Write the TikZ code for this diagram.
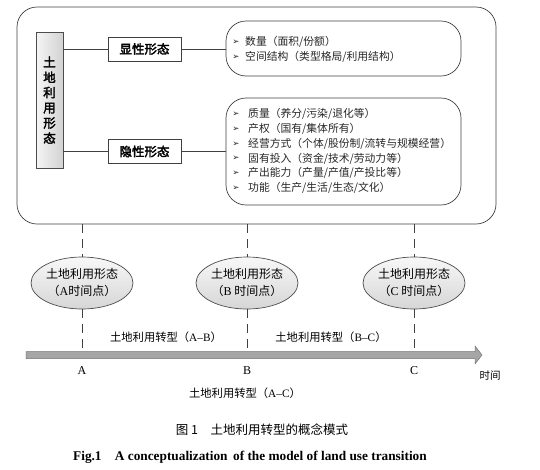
\documentclass[tikz,border=0pt]{standalone}
\usepackage{fontspec}
\setmainfont{Liberation Serif}
\newfontfamily\cjk{Noto Sans CJK SC}
\newfontfamily\cjkb{Noto Sans CJK SC}[FakeBold=2.5]
\newfontfamily\dingfont{DejaVu Sans}
\usetikzlibrary{shapes.geometric}
\newcommand{\blt}{{\dingfont\fontsize{8.5}{9}\selectfont ➢}}
\begin{document}
\begin{tikzpicture}[x=1pt,y=-1pt,
  line/.style={draw=black!75,line width=0.7pt},
  catbox/.style={draw=black!75,line width=0.7pt,fill=white,minimum width=73pt,minimum height=24pt,inner sep=0pt,font=\cjkb\fontsize{12.5}{13}\selectfont},
  roundbox/.style={draw=black!75,line width=0.7pt,rounded corners=20pt},
  item/.style={anchor=west,inner sep=0pt,font=\cjk\fontsize{10.8}{12}\selectfont,text=black!85},
  bul/.style={anchor=center,inner sep=0pt,text=black!85},
  stateell/.style={ellipse,draw=black!70,line width=0.7pt,top color=gray!6,bottom color=gray!32,minimum width=102pt,minimum height=52pt,inner sep=0pt,align=center,font=\cjk\fontsize{12}{17}\selectfont},
  vdash/.style={draw=black!75,line width=0.8pt,dash pattern=on 9pt off 6pt},
  lbl/.style={inner sep=0pt,font=\cjk\fontsize{11.3}{13}\selectfont},
  letter/.style={inner sep=0pt,font=\fontsize{12}{13}\selectfont}]
\path[use as bounding box] (0,0) rectangle (540,469);

% outer frame
\node[roundbox,minimum width=479pt,minimum height=217pt,inner sep=0pt] (outer) at (256.5,115.5) {};

% vertical box
\node[draw=black!70,line width=0.7pt,left color=gray!8,right color=gray!35,minimum width=27pt,minimum height=136pt,inner sep=0pt,align=center,font=\cjkb\fontsize{12.5}{15.2}\selectfont] (L) at (49.5,100) {土\\地\\利\\用\\形\\态};

% category boxes
\node[catbox] (X) at (144.5,49) {显性形态};
\node[catbox] (Y) at (144.5,151.5) {隐性形态};

% rounded content boxes
\node[roundbox,minimum width=235pt,minimum height=55pt,inner sep=0pt] (U) at (343.5,48.5) {};
\node[roundbox,minimum width=235pt,minimum height=107pt,inner sep=0pt] (D) at (343.5,151.5) {};

\draw[line] (X.west -| L.east) -- (X.west);
\draw[line] (X.east) -- (X.east -| U.west);
\draw[line] (Y.west -| L.east) -- (Y.west);
\draw[line] (Y.east) -- (Y.east -| D.west);

% upper items
\node[bul] (ub1) at (236,42) {\blt};
\node[item] (u1) at (245,42) {数量（面积/份额）};
\node[bul] (ub2) at (236,57) {\blt};
\node[item] (u2) at (245,57) {空间结构（类型格局/利用结构）};

% lower items
\node[bul] (db1) at (236,114) {\blt};
\node[item] (d1) at (248,114) {质量（养分/污染/退化等）};
\node[bul] (db2) at (236,129) {\blt};
\node[item] (d2) at (248,129) {产权（国有/集体所有）};
\node[bul] (db3) at (236,144) {\blt};
\node[item] (d3) at (248,144) {经营方式（个体/股份制/流转与规模经营）};
\node[bul] (db4) at (236,158.5) {\blt};
\node[item] (d4) at (248,158.5) {固有投入（资金/技术/劳动力等）};
\node[bul] (db5) at (236,173) {\blt};
\node[item] (d5) at (248,173) {产出能力（产量/产值/产投比等）};
\node[bul] (db6) at (236,188) {\blt};
\node[item] (d6) at (248,188) {功能（生产/生活/生态/文化）};

% time axis arrow
\coordinate (ax0) at (26,355);
\coordinate (ax1) at (482,355);
\filldraw[fill=gray!70,draw=black!55,line width=0.5pt]
  (26,351.5) -- (475,351.5) -- (475,346) -- (ax1) -- (475,364) -- (475,358.5) -- (26,358.5) -- cycle;

% state ellipses
\node[stateell] (EA) at (82,283) {土地利用形态\\（{\rmfamily A}时间点）};
\node[stateell] (EB) at (247,283) {土地利用形态\\（{\rmfamily B} 时间点）};
\node[stateell] (EC) at (414,283) {土地利用形态\\（{\rmfamily C} 时间点）};

\foreach \e in {EA,EB,EC}{
  \draw[vdash] (\e.north |- outer.south) -- (\e.north);
  \draw[vdash] (\e.south) -- (\e.south |- 0,351.5);
}

% labels
\node[lbl] (tAB) at (166,337) {土地利用转型（{\rmfamily A–B}）};
\node[lbl] (tBC) at (331,337) {土地利用转型（{\rmfamily B–C}）};
\node[letter] (lA) at (82,371) {A};
\node[letter] (lB) at (247,371) {B};
\node[letter] (lC) at (414,371) {C};
\node[lbl,font=\cjk\fontsize{10.5}{12}\selectfont] (time) at (490,376) {时间};
\node[lbl] (tAC) at (245,393) {土地利用转型（{\rmfamily A–C}）};

% caption
\node[inner sep=0pt,font=\cjk\fontsize{12.5}{14}\selectfont] (cap1) at (262,430) {图 1\quad 土地利用转型的概念模式};
\node[inner sep=0pt,anchor=west,font=\bfseries\fontsize{13.3}{15}\selectfont] (cap2) at (73,457) {Fig.1\quad A conceptualization\, of the model of land use transition};
\end{tikzpicture}
\end{document}
